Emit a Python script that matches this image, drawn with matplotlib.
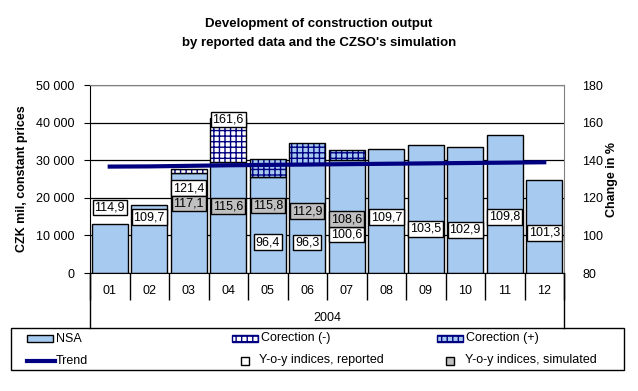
import numpy as np
import matplotlib
matplotlib.use("Agg")
import matplotlib.pyplot as plt
import matplotlib.patches as mpatches
from matplotlib.ticker import FuncFormatter

plt.rcParams['font.family'] = ['Liberation Sans', 'DejaVu Sans']
plt.rcParams['hatch.linewidth'] = 1.0

# data
months = ['01', '02', '03', '04', '05', '06', '07', '08', '09', '10', '11', '12']
nsa = [12950, 18150, 26500, 29450, 25450, 29000, 30100, 32900, 33950, 33400, 36600, 24650]
corr_minus = [0, 0, 1200, 11650, 0, 0, 0, 0, 0, 0, 0, 0]
corr_plus = [0, 0, 0, 0, 4950, 5500, 2500, 0, 0, 0, 0, 0]
trend = [28300, 28350, 28500, 28650, 28750, 28850, 28950, 29050, 29150, 29250, 29350, 29450]
reported = [114.9, 109.7, 121.4, 161.6, 96.4, 96.3, 100.6, 109.7, 103.5, 102.9, 109.8, 101.3]
simulated = [None, None, 117.1, 115.6, 115.8, 112.9, 108.6, None, None, None, None, None]
# vertical nudge of the reported labels (points), to keep them from overlapping
nudge = [0, 0, 5.0, 0, 0, 0, 0, 0, 0, 0, 0, 0]

blue = '#A6CAF0'
navy = '#000080'
grey = '#C0C0C0'
hatch = '+++'

fig = plt.figure(figsize=(6.38, 3.91), dpi=100)
ax = fig.add_axes([90/638, 1-273/391, 474/638, 188/391])
x = np.arange(len(months))
w = 0.9

ax.bar(x, nsa, w, color=blue, edgecolor='black', linewidth=1, zorder=2)
# correction bars: hatch in navy, outline in black
ax.bar(x, corr_minus, w, bottom=nsa, color='white', edgecolor=navy, hatch=hatch, linewidth=0, zorder=2)
ax.bar(x, corr_plus, w, bottom=nsa, color=blue, edgecolor=navy, hatch=hatch, linewidth=0, zorder=2)
for i in range(len(months)):
    extra = corr_minus[i] + corr_plus[i]
    if extra > 0:
        ax.bar(x[i], extra, w, bottom=nsa[i], fill=False, edgecolor='black', linewidth=1, zorder=3)
ax.plot(x, trend, color=navy, linewidth=3, zorder=4)

ax.set_xlim(-0.5, 11.5)
ax.set_ylim(0, 50000)
ax.set_yticks(np.arange(0, 50001, 10000))
ax.yaxis.set_major_formatter(FuncFormatter(lambda v, p: '{:,.0f}'.format(v).replace(',', ' ')))
ax.grid(axis='y', color='black', linewidth=0.9, zorder=0)
ax.set_axisbelow(True)
ax.tick_params(axis='y', length=4, direction='out', labelsize=9, pad=7)
ax.set_xticks(x)
ax.set_xticklabels(months)
ax.set_xticks(np.arange(-0.5, 12, 1), minor=True)
ax.tick_params(axis='x', which='major', length=0, labelsize=9, pad=9)
ax.tick_params(axis='x', which='minor', length=19.5, width=1)
ax.spines['top'].set_color('#808080')
ax.spines['right'].set_color('#808080')
ax.set_ylabel('CZK mil, constant prices', fontweight='bold', fontsize=9)
ax.yaxis.set_label_coords(-0.131, 0.5)

# frame of the two-level category axis
for xx in [0, 1]:
    ax.plot([xx, xx], [0, -0.29], transform=ax.transAxes, color='black', linewidth=1, clip_on=False)

ax2 = ax.twinx()
ax2.set_ylim(80, 180)
ax2.set_yticks(np.arange(80, 181, 20))
ax2.tick_params(axis='y', length=0, labelsize=9, pad=13)
for s in ax2.spines.values():
    s.set_visible(False)
ax2.set_ylabel('Change in %', fontweight='bold', fontsize=9)
ax2.yaxis.set_label_coords(1.089, 0.5)

box = dict(boxstyle='square,pad=0.14', edgecolor='black', linewidth=1)
for i in range(len(months)):
    ax2.annotate('{:.1f}'.format(reported[i]).replace('.', ','), (x[i], reported[i]),
                 xytext=(0, nudge[i]), textcoords='offset points', ha='center', va='center',
                 fontsize=9, bbox=dict(box, facecolor='white'))
    if simulated[i] is not None:
        ax2.text(x[i], simulated[i], '{:.1f}'.format(simulated[i]).replace('.', ','), ha='center', va='center',
                 fontsize=9, bbox=dict(box, facecolor=grey))

fig.text(327/638, 1-318/391, '2004', ha='center', va='center', fontsize=9)
fig.text(0.5, 1-33.5/391, 'Development of construction output\nby reported data and the CZSO\'s simulation',
         ha='center', va='center', fontsize=9.5, fontweight='bold', linespacing=1.75)

# legend, laid out in pixel coordinates
lax = fig.add_axes([0, 0, 1, 1])
lax.set_xlim(0, 638)
lax.set_ylim(391, 0)
lax.axis('off')
lax.add_patch(mpatches.Rectangle((10.5, 327.5), 613, 42, fill=False, edgecolor='black', linewidth=1))
r1, r2 = 338.5, 360.5
lax.add_patch(mpatches.Rectangle((27, r1 - 3.5), 26, 7, facecolor=blue, edgecolor='black', linewidth=1))
lax.text(56, r1, 'NSA', va='center', fontsize=9)
lax.add_patch(mpatches.Rectangle((232, r1 - 3.5), 26, 7, facecolor='white', edgecolor=navy, hatch=hatch, linewidth=1))
lax.text(261, r1, 'Corection (-)', va='center', fontsize=9)
lax.add_patch(mpatches.Rectangle((437, r1 - 3.5), 26, 7, facecolor=blue, edgecolor=navy, hatch=hatch, linewidth=1))
lax.text(466, r1, 'Corection (+)', va='center', fontsize=9)
lax.plot([27, 55], [r2, r2], color=navy, linewidth=3)
lax.text(56, r2, 'Trend', va='center', fontsize=9)
lax.plot([245], [r2], marker='s', markersize=6, markerfacecolor='white', markeredgecolor='black', linestyle='none')
lax.text(259, r2, 'Y-o-y indices, reported', va='center', fontsize=9)
lax.plot([450], [r2], marker='s', markersize=6, markerfacecolor=grey, markeredgecolor='black', linestyle='none')
lax.text(465, r2, 'Y-o-y indices, simulated', va='center', fontsize=9)

fig.savefig('out.png', dpi=100)
